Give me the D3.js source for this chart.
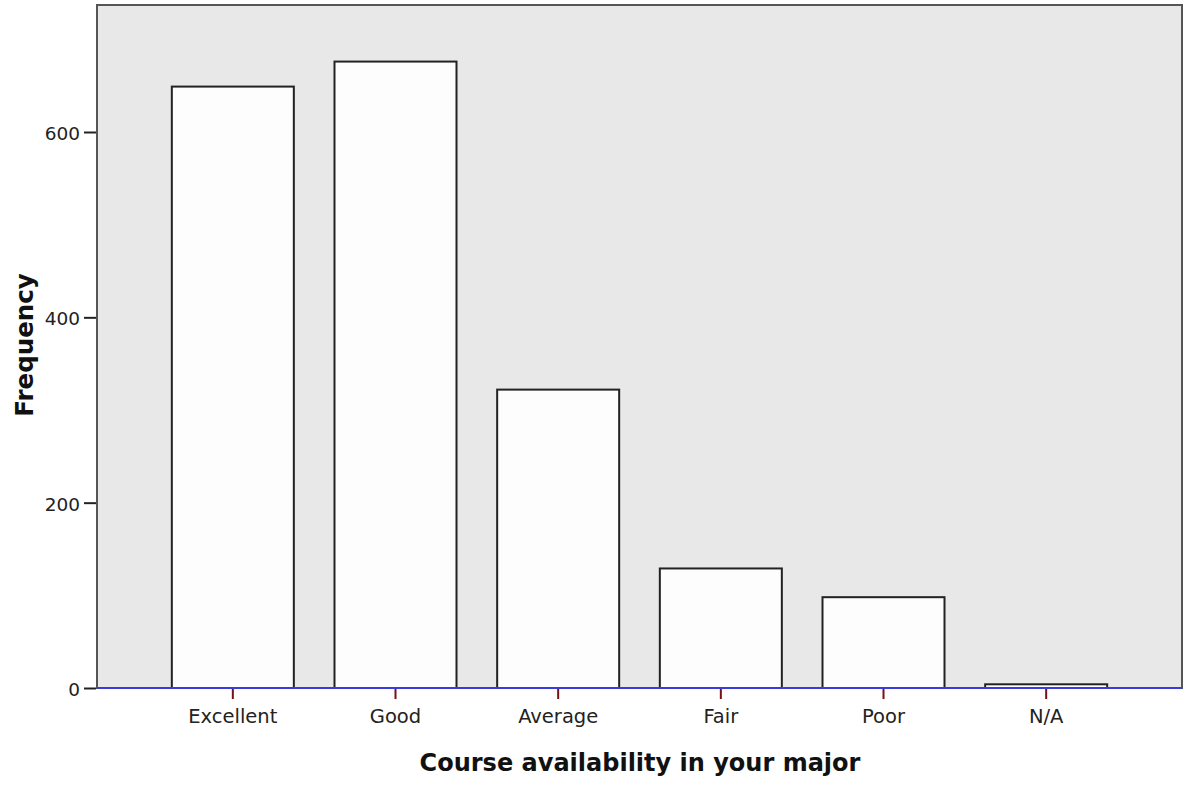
<!DOCTYPE html>
<html><head><meta charset="utf-8">
<script src="https://cdn.jsdelivr.net/npm/d3@7"></script>
<style>body{margin:0;background:#fff}svg{display:block}</style>
</head><body>
<svg id="c" width="1186" height="786"></svg>
<script>
const categories = ["Excellent","Good","Average","Fair","Poor","N/A"];
const frequencies = [649, 676, 322, 129, 98, 4];
const yTicks = [0, 200, 400, 600];
const xTitle = "Course availability in your major";
const yTitle = "Frequency";

const svg = d3.select("#c");
const L = 97, R = 1182, T = 5, B = 688;
const FONT = "DejaVu Sans, Verdana, sans-serif";
const x = d3.scaleBand().domain(categories).range([L, R]).paddingInner(0.25).paddingOuter(0.46);
const y = d3.scaleLinear().domain([0, 600]).range([B, 132]);

svg.append("rect").attr("x", L).attr("y", T).attr("width", R - L).attr("height", B - T)
  .attr("fill", "#e8e8e8").attr("stroke", "#555").attr("stroke-width", 2);

svg.append("g").selectAll("rect").data(categories).join("rect")
  .attr("x", d => x(d)).attr("width", x.bandwidth())
  .attr("y", (d, i) => y(frequencies[i])).attr("height", (d, i) => B - y(frequencies[i]))
  .attr("fill", "#fdfdfd").attr("stroke", "#222").attr("stroke-width", 2);

// baseline
svg.append("line").attr("x1", L).attr("x2", R).attr("y1", B).attr("y2", B)
  .attr("stroke", "#3a3ae0").attr("stroke-width", 2);

// y axis
const ya = d3.axisLeft(y).tickValues(yTicks).tickSize(12).tickPadding(4);
const yg = svg.append("g").attr("transform", `translate(${L - 1},0)`).call(ya);
yg.select(".domain").remove();
yg.selectAll(".tick line").attr("stroke", "#222").attr("stroke-width", 2);
yg.selectAll(".tick text").attr("font-family", FONT).attr("font-size", 18.5).attr("fill", "#222")
  .attr("dy", "0.4em");

// x axis
const xa = d3.axisBottom(x).tickSize(10).tickPadding(10);
const xg = svg.append("g").attr("transform", `translate(0,${B + 1})`).call(xa);
xg.select(".domain").remove();
xg.selectAll(".tick line").attr("stroke", "#7a1010").attr("stroke-width", 2);
xg.selectAll(".tick text").attr("font-family", FONT).attr("font-size", 19.5).attr("fill", "#222");

svg.append("text").attr("x", 640).attr("y", 771).attr("text-anchor", "middle")
  .attr("font-family", FONT).attr("font-weight", "bold").attr("font-size", 24)
  .attr("fill", "#111").text(xTitle);
svg.append("text").attr("transform", `translate(33,345) rotate(-90)`).attr("text-anchor", "middle")
  .attr("font-family", FONT).attr("font-weight", "bold").attr("font-size", 24.5)
  .attr("fill", "#111").text(yTitle);
</script>
</body></html>
